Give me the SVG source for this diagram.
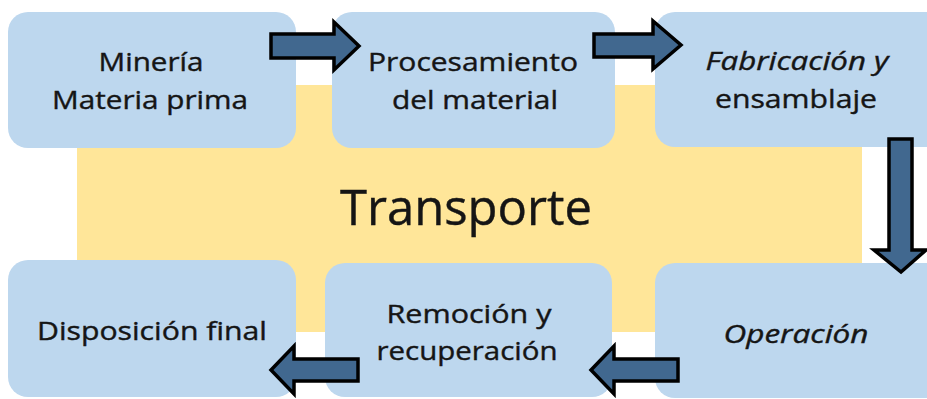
<svg xmlns="http://www.w3.org/2000/svg" width="927" height="399" viewBox="0 0 927 399">
<style>
.box{fill:#BDD7EE}
.t{font-family:"Open Sans","Noto Sans",sans-serif;font-size:26px;fill:#151515;stroke:#151515;stroke-width:0.4;text-anchor:middle}
.arr{fill:#41688F;stroke:#000;stroke-width:3.5;stroke-linejoin:miter}
</style>
<rect id="transporte-bg" x="77" y="85" width="785" height="247" fill="#FFE699"/>
<g id="transporte"><text class="t" x="466" y="225" style="font-size:49px" textLength="252" lengthAdjust="spacingAndGlyphs">Transporte</text></g>
<g id="n1"><rect class="box" x="8" y="12" width="288" height="136" rx="20"/>
<text class="t" x="151" y="71" textLength="105" lengthAdjust="spacingAndGlyphs">Minería</text>
<text class="t" x="150" y="109" textLength="196" lengthAdjust="spacingAndGlyphs">Materia prima</text></g>
<g id="n2"><rect class="box" x="332" y="12" width="283" height="136" rx="20"/>
<text class="t" x="473" y="71" textLength="210" lengthAdjust="spacingAndGlyphs">Procesamiento</text>
<text class="t" x="475" y="109" textLength="166" lengthAdjust="spacingAndGlyphs">del material</text></g>
<g id="n3"><rect class="box" x="655" y="12" width="290" height="135" rx="20"/>
<text class="t" x="797" y="70" style="font-style:italic" textLength="183" lengthAdjust="spacingAndGlyphs">Fabricación y</text>
<text class="t" x="796" y="108" textLength="162" lengthAdjust="spacingAndGlyphs">ensamblaje</text></g>
<g id="n6"><rect class="box" x="655" y="263" width="290" height="135" rx="20"/>
<text class="t" x="796" y="343" style="font-style:italic" textLength="145" lengthAdjust="spacingAndGlyphs">Operación</text></g>
<g id="n5"><rect class="box" x="325" y="263" width="287" height="134" rx="20"/>
<text class="t" x="469" y="323" textLength="165" lengthAdjust="spacingAndGlyphs">Remoción y</text>
<text class="t" x="467" y="360" textLength="181" lengthAdjust="spacingAndGlyphs">recuperación</text></g>
<g id="n4"><rect class="box" x="8" y="260" width="288" height="137" rx="20"/>
<text class="t" x="152" y="340" textLength="230" lengthAdjust="spacingAndGlyphs">Disposición final</text></g>
<g id="connectors">
<polygon class="arr" points="271,34 334,34 334,22 359,46 334,70 334,58 271,58"/>
<polygon class="arr" points="594,34 653,34 653,21 681,45 653,69 653,57 594,57"/>
<polygon class="arr" points="889,139 912,139 912,250 926,250 901,272 874,250 889,250"/>
<polygon class="arr" points="678,359 614,359 614,346 591,370 614,394 614,381 678,381"/>
<polygon class="arr" points="358,359 294,359 294,346 271,370 294,394 294,381 358,381"/>
</g>
</svg>
